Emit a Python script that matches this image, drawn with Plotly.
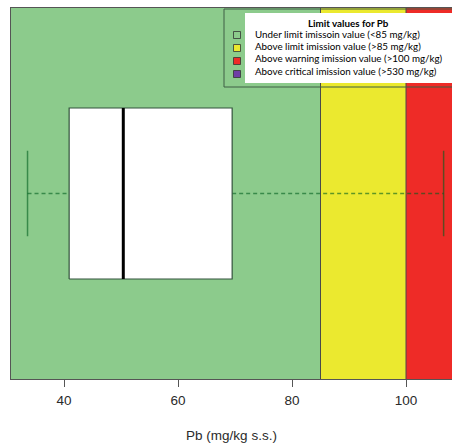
import plotly.graph_objects as go

# ---- data ----
q1 = 40.9
median = 50.4
q3 = 69.5
whisker_low = 33.6
whisker_high = 106.6

limit_values = [85, 100, 530]
zone_colors = ["#8ccb8c", "#ebe92f", "#ee2b27"]
legend_title = "Limit values for Pb"
legend_labels = [
    "Under limit imissoin value (<85 mg/kg)",
    "Above limit imission value (>85 mg/kg)",
    "Above warning imission value (>100 mg/kg)",
    "Above critical imission value (>530 mg/kg)",
]
legend_colors = ["#8ccb8c", "#ebe92f", "#ee2b27", "#6f3fa6"]
tick_vals = [40, 60, 80, 100]
x_title = "Pb (mg/kg s.s.)"

X_RANGE = [30.7, 108.07]
Y_RANGE = [-1.085, 1.085]
BOX_H = 0.5
CAP_H = 0.25

W, H = 452, 443
ML, MT, MB, MR = 11, 8, 64, 0

def px(x):
    return (x - ML) / (W - ML - MR)

def py(y):
    return (H - MB - y) / (H - MT - MB)

fig = go.Figure()

whisk_col = "rgba(0,95,30,0.6)"
# whiskers (dashed)
fig.add_trace(go.Scatter(x=[whisker_low, q1], y=[0, 0], mode="lines",
                         line=dict(color=whisk_col, width=1.3, dash="4px,3px"), hoverinfo="skip"))
fig.add_trace(go.Scatter(x=[q3, whisker_high], y=[0, 0], mode="lines",
                         line=dict(color=whisk_col, width=1.3, dash="4px,3px"), hoverinfo="skip"))
# caps
for v in (whisker_low, whisker_high):
    fig.add_trace(go.Scatter(x=[v, v], y=[-CAP_H, CAP_H], mode="lines",
                             line=dict(color=whisk_col, width=1.5), hoverinfo="skip"))
# box
fig.add_trace(go.Scatter(x=[q1, q3, q3, q1, q1], y=[-BOX_H, -BOX_H, BOX_H, BOX_H, -BOX_H],
                         mode="lines", fill="toself", fillcolor="white",
                         line=dict(color="#33523c", width=1.2), hoverinfo="skip"))
# median
fig.add_trace(go.Scatter(x=[median, median], y=[-BOX_H, BOX_H], mode="lines",
                         line=dict(color="black", width=3), hoverinfo="skip"))

# zones
bounds = [X_RANGE[0] - 5] + limit_values
for i, c in enumerate(zone_colors):
    fig.add_shape(type="rect", xref="x", yref="paper", x0=bounds[i], x1=bounds[i + 1],
                  y0=0, y1=1, fillcolor=c, line=dict(width=0), layer="below")
for v in limit_values[:2]:
    fig.add_shape(type="line", xref="x", yref="paper", x0=v, x1=v, y0=0, y1=1,
                  line=dict(color="#4a4a4a", width=1), layer="below")

# legend frame
fig.add_shape(type="rect", xref="paper", yref="paper", x0=px(224), x1=px(470), y0=py(87), y1=py(9),
              line=dict(color="#3f5f45", width=1), fillcolor="rgba(0,0,0,0)")
fig.add_shape(type="rect", xref="paper", yref="paper", x0=px(245), x1=px(470), y0=py(83), y1=py(13),
              line=dict(width=0), fillcolor="white")
LEG_FONT = "Lato"
LEG_SIZE = 9.8
fig.add_annotation(x=px(348), y=py(23), xref="paper", yref="paper", text="<b>" + legend_title + "</b>",
                   showarrow=False, xanchor="center", yanchor="middle",
                   font=dict(family=LEG_FONT, size=LEG_SIZE, color="black"))
marker_y = [35, 48, 61, 74]
text_y = [34.5, 46.5, 58.5, 70.5]
for lab, col, my, ty in zip(legend_labels, legend_colors, marker_y, text_y):
    fig.add_shape(type="rect", xref="paper", yref="paper", x0=px(233.5), x1=px(240.5),
                  y0=py(my + 3.5), y1=py(my - 3.5), fillcolor=col, line=dict(color="#333", width=0.8))
    fig.add_annotation(x=px(253), y=py(ty), xref="paper", yref="paper", text=lab, showarrow=False,
                       xanchor="left", yanchor="middle",
                       font=dict(family=LEG_FONT, size=LEG_SIZE, color="black"))

fig.update_layout(
    width=W, height=H, margin=dict(l=ML, r=MR, t=MT, b=MB),
    paper_bgcolor="white", plot_bgcolor="white", showlegend=False,
    font=dict(family="Liberation Sans", color="#333"),
    xaxis=dict(range=X_RANGE, tickvals=tick_vals, ticks="outside", ticklen=7, tickcolor="#555",
               ticklabelstandoff=2,
               tickfont=dict(size=13.5, color="#2a2a2a"), showgrid=False, zeroline=False,
               showline=True, linecolor="#555", linewidth=1, mirror=True,
               title=dict(text=x_title, font=dict(size=13.5, color="#2a2a2a"), standoff=24)),
    yaxis=dict(range=Y_RANGE, showticklabels=False, ticks="", showgrid=False, zeroline=False,
               showline=True, linecolor="#555", linewidth=1),
)
fig.write_html("out.html", config={"displayModeBar": False},
               post_script="document.body.style.margin='0';document.body.style.overflow='hidden';")
